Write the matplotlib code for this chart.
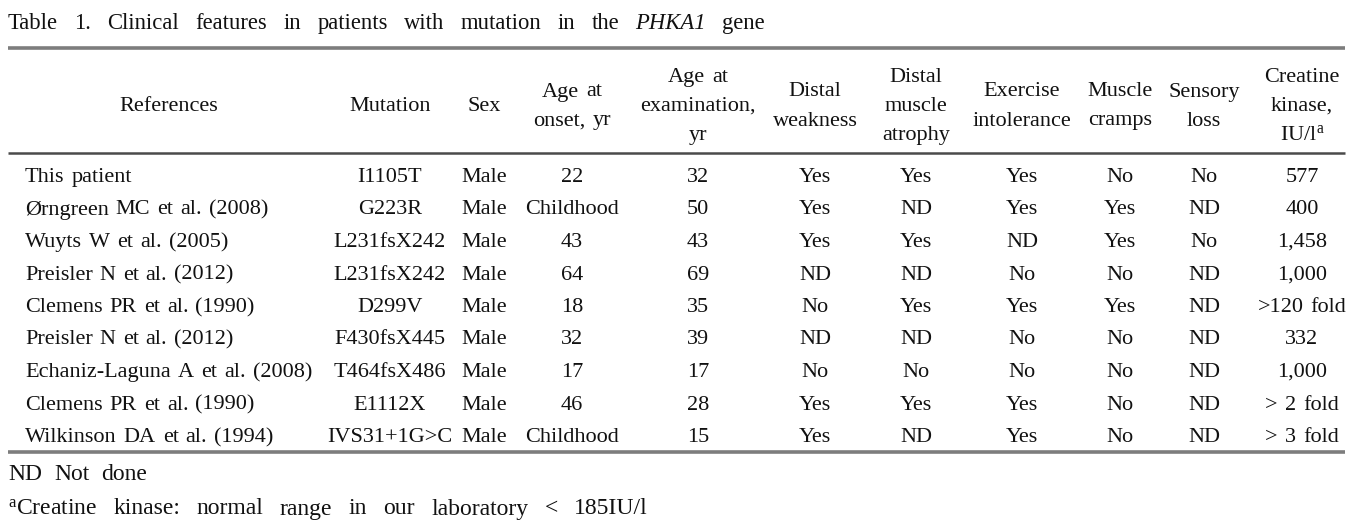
import matplotlib
matplotlib.use("Agg")
import matplotlib.pyplot as plt

plt.rcParams['font.family'] = ['Liberation Serif', 'DejaVu Serif']
plt.rcParams['mathtext.fontset'] = 'custom'
plt.rcParams['mathtext.rm'] = 'Liberation Serif'
plt.rcParams['mathtext.it'] = 'Liberation Serif:italic'

title_words = ["Table", "1.", "Clinical", "features", "in", "patients", "with",
               "mutation", "in", "the", "PHKA1", "gene"]
title_italic = {"PHKA1"}

headers = [
    ["References"],
    ["Mutation"],
    ["Sex"],
    ["Age at", "onset, yr"],
    ["Age at", "examination,", "yr"],
    ["Distal", "weakness"],
    ["Distal", "muscle", "atrophy"],
    ["Exercise", "intolerance"],
    ["Muscle", "cramps"],
    ["Sensory", "loss"],
    ["Creatine", "kinase,", r"IU/l$^{\mathrm{a}}$"],
]

references = ["This patient", "Ørngreen MC et al. (2008)", "Wuyts W et al. (2005)",
              "Preisler N et al. (2012)", "Clemens PR et al. (1990)", "Preisler N et al. (2012)",
              "Echaniz-Laguna A et al. (2008)", "Clemens PR et al. (1990)",
              "Wilkinson DA et al. (1994)"]
mutations = ["I1105T", "G223R", "L231fsX242", "L231fsX242", "D299V", "F430fsX445",
             "T464fsX486", "E1112X", "IVS31+1G>C"]
sexes = ["Male"] * 9
age_onset = ["22", "Childhood", "43", "64", "18", "32", "17", "46", "Childhood"]
age_exam = ["32", "50", "43", "69", "35", "39", "17", "28", "15"]
distal_weakness = ["Yes", "Yes", "Yes", "ND", "No", "ND", "No", "Yes", "Yes"]
distal_atrophy = ["Yes", "ND", "Yes", "ND", "Yes", "ND", "No", "Yes", "ND"]
exercise_intol = ["Yes", "Yes", "ND", "No", "Yes", "No", "No", "Yes", "Yes"]
muscle_cramps = ["No", "Yes", "Yes", "No", "Yes", "No", "No", "No", "No"]
sensory_loss = ["No", "ND", "No", "ND", "ND", "ND", "ND", "ND", "ND"]
creatine_kinase = ["577", "400", "1,458", "1,000", ">120 fold", "332", "1,000",
                   "> 2 fold", "> 3 fold"]

footnotes = ["ND Not done",
             r"$^{\mathrm{a}}$Creatine kinase: normal range in our laboratory < 185IU/l"]

columns = [references, mutations, sexes, age_onset, age_exam, distal_weakness,
           distal_atrophy, exercise_intol, muscle_cramps, sensory_loss, creatine_kinase]

W, H = 1369, 529
fig = plt.figure(figsize=(W / 100, H / 100), dpi=100)
ax = fig.add_axes([0, 0, 1, 1])
ax.set_xlim(0, W)
ax.set_ylim(H, 0)
ax.axis('off')
renderer = fig.canvas.get_renderer()

fs = 16
fs_title = 16.3
fs_foot = 17
ink = '#111111'


def width_of(word, size, style='normal'):
    t = ax.text(0, 0, word, fontsize=size, fontstyle=style)
    w = t.get_window_extent(renderer).width
    t.remove()
    return w


def draw_words(x, y, words, ha='left', gap=7.0, size=fs, italic=(), total=None):
    styles = ['italic' if w in italic else 'normal' for w in words]
    widths = [width_of(w, size, s) for w, s in zip(words, styles)]
    if total is not None and len(words) > 1:
        gap = (total - sum(widths)) / (len(words) - 1)
    tot = sum(widths) + gap * (len(words) - 1)
    x0 = x - tot / 2 if ha == 'center' else x
    for w, s, wd in zip(words, styles, widths):
        ax.text(x0, y, w, fontsize=size, fontstyle=s, ha='left', va='baseline', color=ink)
        x0 += wd + gap


col_x = [169, 390, 484, 572, 698, 815, 916, 1022, 1120, 1204, 1302]
ref_left = 25
base_off = 7           # baseline below visual centre
row_y0, row_dy = 175, 32.5
head_mid, head_dy = 104, 29

# title
draw_words(8, 22 + 7, title_words, italic=title_italic, total=757, size=fs_title)

# rules
ax.hlines(48, 8, 1345, color='#7d7d7d', lw=2.6)
ax.hlines(153, 8, 1345, color='#4a4a4a', lw=1.8)
ax.hlines(452, 8, 1345, color='#7d7d7d', lw=2.6)

# header
for x, lines in zip(col_x, headers):
    n = len(lines)
    for k, s in enumerate(lines):
        y = head_mid + (k - (n - 1) / 2) * head_dy + base_off
        draw_words(x, y, s.split(' '), ha='center')

# body
for j, col in enumerate(columns):
    for i, s in enumerate(col):
        y = row_y0 + i * row_dy + base_off
        if j == 0:
            draw_words(ref_left, y, s.split(' '), ha='left')
        else:
            draw_words(col_x[j], y, s.split(' '), ha='center')

# footnotes
draw_words(8, 473 + 7.5, footnotes[0].split(' '), size=fs_foot, gap=12)
draw_words(8, 507 + 7.5, footnotes[1].split(' '), size=fs_foot, total=640)

fig.savefig("out.png", dpi=100)
